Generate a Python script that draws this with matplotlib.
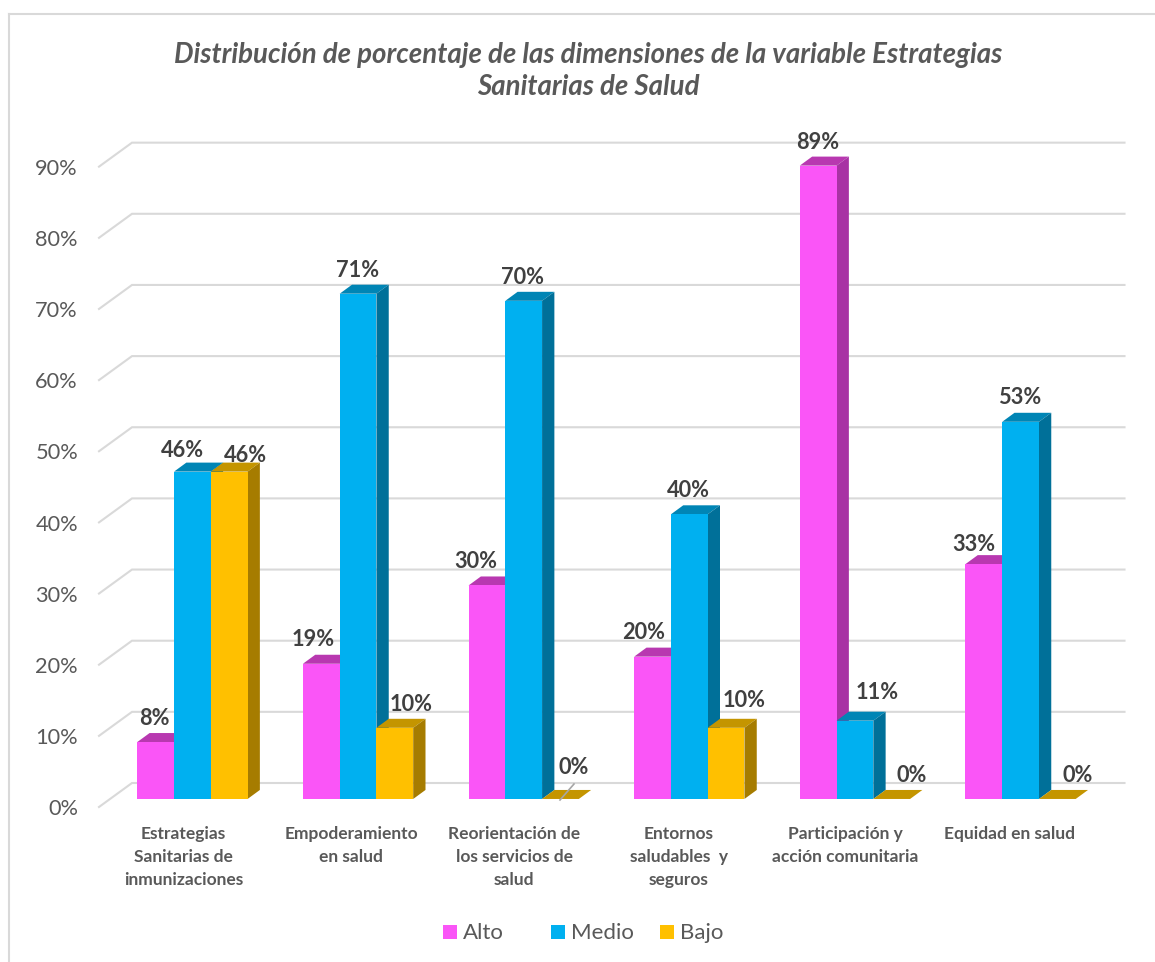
import matplotlib
matplotlib.use("Agg")
import matplotlib.pyplot as plt
from matplotlib.patches import Polygon, Rectangle
from matplotlib.transforms import Affine2D
from matplotlib.lines import Line2D

W, H = 1155, 962
plt.rcParams['font.family'] = ['Lato', 'DejaVu Sans']

title = "Distribución de porcentaje de las dimensiones de la variable Estrategias\nSanitarias de Salud"
categories = ["Estrategias\nSanitarias de\ninmunizaciones", "Empoderamiento\nen salud",
              "Reorientación de\nlos servicios de\nsalud", "Entornos\nsaludables  y\nseguros",
              "Participación y\nacción comunitaria", "Equidad en salud"]
series = ["Alto", "Medio", "Bajo"]
alto = [8, 19, 30, 20, 89, 33]
medio = [46, 71, 70, 40, 11, 53]
bajo = [46, 10, 0, 10, 0, 0]
ticks = list(range(0, 100, 10))

front = ["#FA55F7", "#00B0F0", "#FFC000"]
side = ["#A832A4", "#007099", "#A67C00"]
top = ["#B838B0", "#0085B5", "#C49500"]
TXT = "#595959"
LBL = "#404040"
GRID = "#D9D9D9"

# pixel geometry of the chart
X0, XU = 192.4, 165.6     # first group centre, group spacing
Y0, YU = 799.0, 7.115     # baseline, pixels per percent
BW = 36.75
DX, DY = 12.3, 9.0

fig = plt.figure(figsize=((W + 0.2) / 100, (H + 0.2) / 100), dpi=100, facecolor="white")
ax = fig.add_axes([0, 0, 1, 1])
ax.set_xlim(-X0 / XU, (W - X0) / XU)
ax.set_ylim((Y0 - H) / YU, Y0 / YU)
ax.axis("off")
px = Affine2D().scale(1, -1).translate(0, H)   # reference pixel coordinates

# chart frame
for xs, ys in [((8.5, 8.5), (962, 13.5)), ((8.5, 1155), (13.5, 13.5))]:
    ax.add_line(Line2D(xs, ys, transform=px, color=GRID, lw=1.5, clip_on=False, zorder=1))

# gridlines on floor-corner and back wall
gx = [99, 132, 1124.5]
for t in ticks:
    ypx = Y0 - t * YU
    ax.add_line(Line2D(gx, [ypx + 8, ypx - 16, ypx - 16], transform=px, color=GRID, lw=1.5,
                       solid_joinstyle="miter", zorder=1))
    ax.text(78, ypx + 10, f"{t}%", transform=px, ha="right", va="center",
            fontsize=15.7, color=TXT)

ddx, ddy = DX / XU, DY / YU
bw = BW / XU
values = [alto, medio, bajo]
dxs = [[-1, -8, -11, -9, -1, -10], [-10, 0, -1, -1, 22, -1], [16, 16, 13, 18, 20, 20]]
dys = [[24, 24, 24, 24, 23, 20], [21, 23.5, 24, 24, 28, 24], [16, 24, 32, 28, 24, 24]]

for g in range(len(categories)):
    for s in range(3):
        v = values[s][g]
        left = g + (s - 1.5) * bw
        right = left + bw
        ax.bar(left, v, width=bw, align="edge", color=front[s], edgecolor="none", zorder=3 + g * 3 + s)
        z = 2.5 + g * 3 + s
        ax.add_patch(Polygon([(left, v), (right, v), (right + ddx, v + ddy), (left + ddx, v + ddy)],
                             closed=True, fc=top[s], ec="none", zorder=z))
        if v > 0:
            ax.add_patch(Polygon([(right, 0), (right + ddx, ddy), (right + ddx, v + ddy), (right, v)],
                                 closed=True, fc=side[s], ec="none", zorder=z))
        ax.annotate(f"{v}%", xy=(g + (s - 1) * bw, v),
                    xytext=(dxs[s][g] * 0.72, dys[s][g] * 0.72), textcoords="offset points",
                    ha="center", va="center", fontsize=15.7, fontweight="bold", color=LBL, zorder=100)

# leader line of the third group's empty bar
ax.add_line(Line2D([560, 574], [800, 784], transform=px, color="#A6A6A6", lw=1.2, zorder=99))

# category labels
cat_x = [183.5, 351, 514, 679, 845, 1010]
for cx, c in zip(cat_x, categories):
    ax.text(cx, 825.5, c, transform=px, ha="center", va="top", fontsize=12.5, fontweight="bold",
            color=TXT, linespacing=1.55)

# title
ax.text(588, 70.5, title, transform=px, ha="center", va="center", fontsize=19.9, fontweight="bold",
        fontstyle="italic", color=TXT, linespacing=1.3)

# legend
for sx, name, c in zip([443, 551, 660], series, front):
    ax.add_patch(Rectangle((sx, 925), 14, 14, transform=px, fc=c, ec="none", zorder=5))
    ax.text(sx + 20, 933, name, transform=px, ha="left", va="center", fontsize=16, color=TXT)

fig.savefig("out.png", dpi=100, facecolor="white")
